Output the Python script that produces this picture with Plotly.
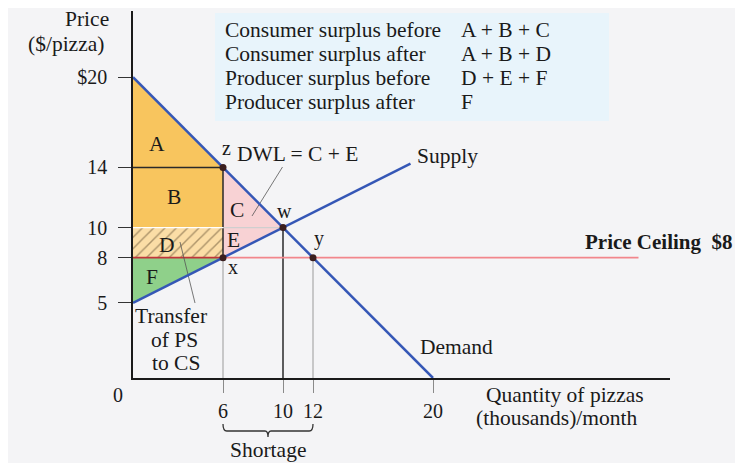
import plotly.graph_objects as go

# ---------------- data ----------------
demand_q = [0, 20]
demand_p = [20, 0]
supply_q = [0, 18.5]
supply_p = [5, 14.25]
ceiling_price = 8
ceiling_q_end = 33.7

point_names = ["z", "x", "w", "y"]
point_q = [6, 6, 10, 12]
point_p = [14, 8, 10, 8]

y_tick_vals = [5, 8, 10, 14, 20]
y_tick_text = ["5", "8", "10", "14", "$20"]
x_tick_vals = [6, 10, 12, 20]
x_tick_text = ["6", "10", "12", "20"]

# surplus regions (quantity, price vertices)
region_A_q = [0, 0, 6, 0]
region_A_p = [20, 14, 14, 20]
region_B_q = [0, 0, 6, 6, 0]
region_B_p = [14, 10, 10, 14, 14]
region_D_q = [0, 0, 6, 6, 0]
region_D_p = [10, 8, 8, 10, 10]
region_CE_q = [6, 6, 10, 6]
region_CE_p = [14, 8, 10, 14]
region_F_q = [0, 0, 6, 0]
region_F_p = [8, 5, 8, 8]

summary_left = ["Consumer surplus before", "Consumer surplus after",
                "Producer surplus before", "Producer surplus after"]
summary_right = ["A + B + C", "A + B + D", "D + E + F", "F"]

# ---------------- layout geometry ----------------
# the page places the figure 8px in from the top-left corner
OFF = 8
W, H = 743, 463
PLOT_L, PLOT_R, PLOT_T, PLOT_B = 133, 670, 11, 378   # target page pixels
L = PLOT_L - OFF
T = PLOT_T - OFF
R = W - (PLOT_R - OFF)
B = H - (PLOT_B - OFF)
X_RANGE = [0, 35.8]
Y_RANGE = [0, 24.4]
PW = PLOT_R - PLOT_L
PH = PLOT_B - PLOT_T

def dx(px):  # page pixel -> data x
    return X_RANGE[0] + (px - PLOT_L) / PW * (X_RANGE[1] - X_RANGE[0])

def dy(py):  # page pixel -> data y
    return Y_RANGE[0] + (PLOT_B - py) / PH * (Y_RANGE[1] - Y_RANGE[0])

def fx(px):  # page pixel -> paper x
    return (px - PLOT_L) / PW

def fy(py):  # page pixel -> paper y
    return (PLOT_B - py) / PH

SERIF = "Liberation Serif, Times New Roman, serif"
TXT = "#1a1a1a"
ORANGE = "#F8C55E"
PINK = "#F8D2D4"
GREEN = "#8FD08A"
BLUE = "#3557B6"
FS = 21.5

fig = go.Figure()

def region(q, p, color, **kw):
    fig.add_trace(go.Scatter(x=q, y=p, mode="lines", fill="toself", fillcolor=color,
                             line=dict(width=0), hoverinfo="skip", showlegend=False, **kw))

region(region_A_q, region_A_p, ORANGE)
region(region_B_q, region_B_p, ORANGE)
region(region_CE_q, region_CE_p, PINK)
region(region_F_q, region_F_p, GREEN)
region(region_D_q, region_D_p, "#FBDDA6",
       fillpattern=dict(shape="/", fgcolor="#5e4a2e", bgcolor="#FBDDA6", size=8, solidity=0.18))

def seg(q, p, color, width):
    fig.add_trace(go.Scatter(x=q, y=p, mode="lines", line=dict(color=color, width=width),
                             hoverinfo="skip", showlegend=False))

# guide lines
seg([0, point_q[0]], [point_p[0], point_p[0]], "#2a2a2a", 1.5)
seg([point_q[0], point_q[0]], [point_p[0], point_p[1]], "#2a2a2a", 1.5)
seg([point_q[1], point_q[1]], [point_p[1], 0], "#9a9a9a", 1)
seg([0, point_q[1]], [point_p[2], point_p[2]], "#ffffff", 1.2)
seg([point_q[1], point_q[2]], [point_p[2], point_p[2]], "#cfcfcf", 1.2)
seg([point_q[2], point_q[2]], [point_p[2], 0], "#2a2a2a", 1.5)
seg([point_q[3], point_q[3]], [point_p[3], 0], "#9a9a9a", 1)

# price ceiling
seg([0, point_q[1]], [ceiling_price, ceiling_price], "#C0353A", 1.6)
seg([point_q[1], ceiling_q_end], [ceiling_price, ceiling_price], "#F2868C", 1.6)

# leader lines
seg([dx(282.5), dx(252)], [dy(167), dy(216)], "#555555", 0.8)
seg([dx(180), dx(195)], [dy(242), dy(303)], "#555555", 0.8)

# supply & demand
fig.add_trace(go.Scatter(x=supply_q, y=supply_p, mode="lines", name="Supply",
                         line=dict(color=BLUE, width=2.5), showlegend=False))
fig.add_trace(go.Scatter(x=demand_q, y=demand_p, mode="lines", name="Demand",
                         line=dict(color=BLUE, width=2.5), showlegend=False))

# points
fig.add_trace(go.Scatter(x=point_q, y=point_p, mode="markers", text=point_names,
                         marker=dict(size=7, color="#3a1e1e"), showlegend=False))

shapes = []
# summary box
shapes.append(dict(type="rect", xref="x", yref="y", x0=dx(215), x1=dx(609), y0=dy(121), y1=dy(13),
                   fillcolor="#E8F4FB", line=dict(width=0), layer="below"))
# shortage brace
y1b, y2b, y3b = fy(424), fy(431), fy(437)
xa, xm, xb = point_q[1], (point_q[1] + point_q[3]) / 2, point_q[3]
path = (f"M {xa},{y1b} Q {xa},{y2b} {xa+0.25},{y2b} L {xm-0.2},{y2b} "
        f"Q {xm},{y2b} {xm},{y3b} Q {xm},{y2b} {xm+0.2},{y2b} "
        f"L {xb-0.25},{y2b} Q {xb},{y2b} {xb},{y1b}")
shapes.append(dict(type="path", xref="x", yref="paper", path=path,
                   line=dict(color="#333333", width=1.3)))

ann = []

def T_(x, y, text, size=FS, xref="x", yref="y", xanchor="center", yanchor="middle",
       align="center", bold=False, family=SERIF):
    ann.append(dict(x=x, y=y, xref=xref, yref=yref, text=text, showarrow=False,
                    xanchor=xanchor, yanchor=yanchor, align=align,
                    font=dict(family=family, size=size, color=TXT,
                              weight="bold" if bold else "normal")))

# summary text
row_py = [30, 54, 78, 102]
for i in range(4):
    T_(dx(223), dy(row_py[i]), summary_left[i], xanchor="left")
    T_(dx(459), dy(row_py[i]), summary_right[i], xanchor="left")

# region letters
T_(dx(157), dy(144), "A")
T_(dx(174), dy(197), "B")
T_(dx(237), dy(210), "C")
T_(dx(167), dy(245), "D")
T_(dx(233), dy(240), "E")
T_(dx(152), dy(277), "F")
# point labels
T_(dx(226), dy(148), "z", size=20)
T_(dx(233), dy(267), "x", size=20)
T_(dx(284), dy(211), "w", size=20)
T_(dx(319), dy(238), "y", size=20)
# other labels
T_(dx(235), dy(154), "DWL = C + E", xanchor="left")
T_(dx(415), dy(156), "Supply", xanchor="left")
T_(dx(418), dy(347), "Demand", xanchor="left")
T_(dx(171), dy(316), "Transfer")
T_(dx(174), dy(340), "of PS")
T_(dx(176), dy(363), "to CS")
T_(dx(659), dy(242), "Price Ceiling  $8", size=21, bold=True)
# outside plot area
T_(fx(87), fy(19), "Price", xref="paper", yref="paper")
T_(fx(66), fy(44), "($/pizza)", xref="paper", yref="paper")
T_(fx(118), fy(395), "0", xref="paper", yref="paper", size=20)
T_(fx(565), fy(395), "Quantity of pizzas", xref="paper", yref="paper")
T_(fx(556), fy(418), "(thousands)/month", xref="paper", yref="paper")
T_(fx(268), fy(450), "Shortage", xref="paper", yref="paper")

BG = "#F4F4F6"
fig.update_layout(
    width=W, height=H,
    margin=dict(l=L, r=R, t=T, b=B, pad=0),
    paper_bgcolor=BG, plot_bgcolor=BG,
    shapes=shapes, annotations=ann, showlegend=False,
    xaxis=dict(range=X_RANGE, showgrid=False, zeroline=False, showline=True,
               linecolor="#1a1a1a", linewidth=1.5, tickvals=x_tick_vals, ticktext=x_tick_text,
               ticks="outside", ticklen=13, tickcolor="#8a8a8a", tickwidth=1,
               ticklabelstandoff=1, tickfont=dict(family=SERIF, size=20, color=TXT)),
    yaxis=dict(range=Y_RANGE, showgrid=False, zeroline=False, showline=True,
               linecolor="#1a1a1a", linewidth=1.5, tickvals=y_tick_vals, ticktext=y_tick_text,
               ticks="outside", ticklen=13, tickcolor="#333333", tickwidth=1,
               ticklabelstandoff=7, tickfont=dict(family=SERIF, size=20, color=TXT)),
)

fig.write_html("out.html")
